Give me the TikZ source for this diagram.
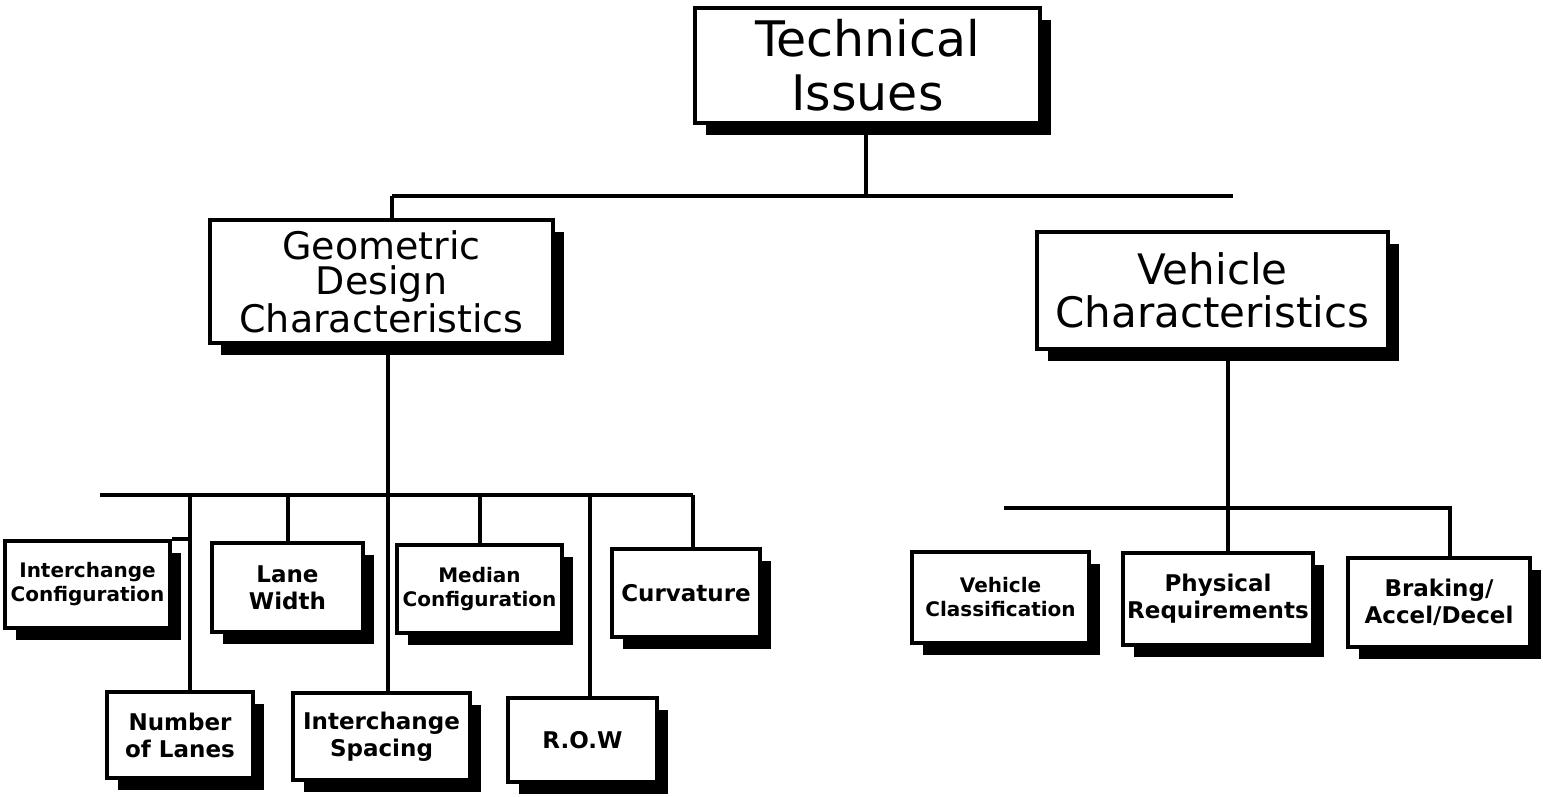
\documentclass[tikz,border=0pt]{standalone}
\usepackage{fontspec}
\setmainfont{DejaVu Sans}
\usetikzlibrary{shadows}
\begin{document}
\begin{tikzpicture}[x=1pt,y=-1pt,
  box/.style={draw=black, line width=3.8pt, fill=white, inner sep=0pt, align=center,
    drop shadow={shadow xshift=11pt, shadow yshift=-12pt, opacity=1, fill=black}},
  bigtxt/.style={font=\fontsize{49}{54}\selectfont},
  midtxt/.style={font=\fontsize{38}{35}\selectfont},
  vehtxt/.style={font=\fontsize{42}{43}\selectfont},
  smalltxt/.style={font=\bfseries\fontsize{23}{27}\selectfont},
  tinytxt/.style={font=\bfseries\fontsize{20}{24}\selectfont},
  wire/.style={line width=4pt}]
\useasboundingbox (0,0) rectangle (1543,797);

% top level
\node[box, bigtxt, minimum width=345pt, minimum height=115pt] (tech) at (867.5,65.5) {Technical\\Issues};

% second level
\node[box, midtxt, minimum width=343pt, minimum height=123pt] (geo) at (381.5,281.5) {Geometric\\Design\\Characteristics};
\node[box, vehtxt, minimum width=351pt, minimum height=117pt] (veh) at (1212.5,290.5) {Vehicle\\Characteristics};

% geometric children
\node[box, tinytxt, minimum width=165pt, minimum height=87pt] (ic) at (87.5,584.5) {Interchange\\Configuration};
\node[box, smalltxt, minimum width=151pt, minimum height=89pt] (lw) at (287.5,587.5) {Lane\\Width};
\node[box, tinytxt, minimum width=165pt, minimum height=88pt] (mc) at (479.5,589) {Median\\Configuration};
\node[box, smalltxt, minimum width=148pt, minimum height=88pt] (cu) at (686,593) {Curvature};
\node[box, smalltxt, minimum width=146pt, minimum height=86pt] (nl) at (180,735) {Number\\of Lanes};
\node[box, smalltxt, minimum width=177pt, minimum height=87pt] (is) at (381.5,736.5) {Interchange\\Spacing};
\node[box, smalltxt, minimum width=149pt, minimum height=84pt] (row) at (582.5,740) {R.O.W};

% vehicle children
\node[box, tinytxt, minimum width=177pt, minimum height=91pt] (vc) at (1000.5,597.5) {Vehicle\\Classification};
\node[box, smalltxt, minimum width=190pt, minimum height=92pt] (pr) at (1218,599) {Physical\\Requirements};
\node[box, smalltxt, minimum width=182pt, minimum height=89pt] (br) at (1439,602.5) {Braking/\\Accel/Decel};

% bus coordinates
\coordinate (tl) at (392,196);
\coordinate (tr) at (1233,196);
\coordinate (lb1) at (100,495);
\coordinate (lb2) at (693,495);
\coordinate (gx) at (388,495);
\coordinate (d1) at (190,495);
\coordinate (d5) at (590,495);
\coordinate (rb1) at (1004,508);
\coordinate (rx) at (1228,508);
\coordinate (rb2) at (1450,508);

% top connectors
\draw[wire] (tech.south -| 866,0) -- (tl -| 866,0);
\draw[wire] (tl) -- (tr);
\draw[wire] (tl) -- (tl |- geo.north);

% geometric connectors
\draw[wire] (lb1) -- (lb2);
\draw[wire] (geo.south -| gx) -- (is.north -| gx);
\draw[wire] (d1) -- (d1 |- nl.north);
\draw[wire] (ic.north east) -- (ic.north east -| d1);
\draw[wire] (lw.north |- lb1) -- (lw.north);
\draw[wire] (mc.north |- lb1) -- (mc.north);
\draw[wire] (d5) -- (d5 |- row.north);
\draw[wire] (lb2) -- (lb2 |- cu.north);

% vehicle connectors
\draw[wire] (veh.south -| rx) -- (pr.north -| rx);
\draw[wire] (rb1) -- (rb2) -- (rb2 |- br.north);
\end{tikzpicture}
\end{document}
